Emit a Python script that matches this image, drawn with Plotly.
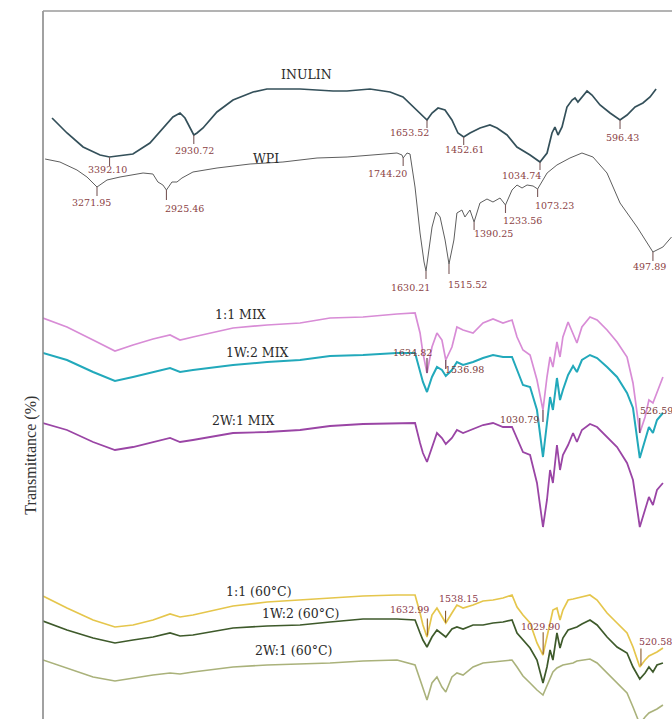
import numpy as np
import plotly.graph_objects as go

# ---------------- spectra (wavenumber in cm-1, stacked transmittance in %) ----------------
INULIN_WN = [3707, 3625, 3537, 3444, 3392.10, 3264, 3171, 3099, 3045, 3006, 2979, 2930.72,
             2913, 2880, 2853, 2804, 2716, 2606, 2530, 2349, 2168, 2092, 1966, 1856, 1785,
             1730, 1681, 1653.52, 1626, 1593, 1555, 1517, 1484, 1452.61, 1418, 1363, 1309,
             1270, 1215, 1161, 1089, 1034.74, 996, 969, 953, 936, 914, 887, 859, 843, 827,
             805, 777, 750, 706, 651, 596.43, 558, 514, 471, 432, 399]
INULIN_T = [60.1, 58.6, 57.2, 56.4, 56.2, 56.5, 57.6, 59.1, 60.2, 60.6, 60.1, 58.4,
            58.6, 59.1, 59.7, 60.7, 61.9, 62.7, 63.0, 63.0, 62.8, 62.8, 63.0, 62.7, 62.2,
            61.2, 60.4, 59.9, 60.6, 61.1, 60.9, 59.9, 58.6, 58.2, 58.6, 59.1, 59.4,
            59.1, 58.4, 57.2, 56.4, 55.7, 56.6, 58.6, 59.2, 58.4, 59.2, 61.2, 61.9, 62.1, 61.7,
            62.2, 62.8, 62.4, 61.4, 60.6, 59.9, 60.4, 61.2, 61.6, 62.2, 63.0]

WPI_WN = [3531, 3457, 3372, 3322, 3271.95, 3222, 3157, 3092, 3042, 2993, 2968, 2943,
          2925.46, 2898, 2873, 2848, 2793, 2673, 2508, 2344, 2174, 2024, 1860, 1775, 1750,
          1744.20, 1725, 1710, 1685, 1660, 1640, 1630.21, 1600, 1580, 1560, 1535, 1515.52,
          1491, 1476, 1451, 1436, 1411, 1390.25, 1361, 1326, 1296, 1261, 1233.56, 1201,
          1176, 1151, 1126, 1096, 1073.23, 1026, 977, 912, 852, 797, 727, 662, 577,
          497.89, 448, 405]
WPI_T = [56.0, 55.7, 54.9, 54.2, 53.2, 53.9, 54.2, 54.4, 54.6, 54.5, 53.7, 53.4,
         52.9, 53.7, 53.7, 54.1, 54.7, 55.1, 55.5, 55.7, 56.1, 56.2, 56.5, 56.6, 56.4,
         56.1, 56.6, 56.5, 53.2, 48.6, 45.7, 44.8, 49.2, 50.7, 50.2, 47.9, 45.5,
         47.9, 50.6, 50.9, 50.2, 50.9, 49.7, 51.6, 52.0, 51.7, 52.1, 51.4, 52.9,
         53.4, 53.1, 53.4, 53.3, 53.0, 54.6, 55.4, 56.1, 56.6, 56.2, 54.6, 51.6, 49.2,
         46.7, 47.2, 48.2]

# common wavenumber grid of the blend spectra
MIX_WN = [3635, 3510, 3374, 3260, 3166, 3062, 2973, 2921, 2854, 2645, 2468, 2296, 2140,
          1968, 1791, 1697, 1671, 1656, 1634.82, 1609, 1583, 1557, 1536.98, 1505, 1479,
          1447, 1395, 1343, 1291, 1239, 1192, 1166, 1135, 1098, 1062, 1030.79, 1010, 994,
          979, 958, 942, 927, 900, 874, 854, 828, 786, 749, 697, 645, 593, 562, 526.59,
          499, 479, 458, 437, 406]

MIX_11_T = [40.1, 39.2, 37.9, 36.8, 37.4, 38.0, 38.4, 37.9, 38.2, 39.1, 39.4, 39.6, 40.1,
            40.2, 40.5, 40.6, 38.6, 36.6, 34.6, 37.2, 38.6, 37.9, 35.9, 37.2, 39.2,
            38.9, 38.6, 39.6, 40.0, 39.6, 39.9, 38.2, 36.9, 36.4, 33.9, 30.9, 34.2, 36.2,
            35.2, 37.7, 36.2, 38.2, 39.7, 38.6, 37.6, 39.2, 40.2, 39.9, 38.9, 37.7, 36.2, 33.6, 28.6,
            30.2, 31.9, 31.6, 32.6, 34.2]
MIX_1W2_T = [36.6, 35.9, 34.7, 33.8, 34.2, 34.7, 35.1, 34.7, 34.9, 35.4, 35.7, 35.9, 36.3,
             36.4, 36.6, 36.6, 34.9, 33.7, 32.7, 34.2, 35.2, 34.9, 34.3, 34.9, 35.7,
             35.4, 35.7, 36.1, 36.4, 36.2, 36.2, 34.9, 33.4, 33.2, 30.9, 26.2, 29.9, 32.2,
             30.9, 34.1, 31.9, 32.9, 34.4, 35.3, 34.7, 35.9, 36.4, 36.1, 35.2, 34.2, 32.6, 31.1, 26.1,
             27.9, 29.2, 28.6, 29.9, 30.6]
MIX_2W1_T = [29.6, 28.9, 27.7, 26.9, 27.2, 27.7, 28.1, 27.7, 27.9, 28.6, 28.7, 28.9, 29.3,
             29.5, 29.6, 29.6, 27.6, 26.6, 25.7, 27.2, 28.6, 28.1, 27.5, 28.1, 28.9,
             28.6, 29.0, 29.4, 29.6, 29.2, 29.2, 28.1, 26.7, 26.4, 23.6, 19.2, 21.9, 24.9,
             23.6, 27.4, 24.9, 26.4, 27.4, 28.6, 27.7, 28.9, 29.5, 29.2, 28.2, 27.2, 25.6, 23.9, 19.2,
             20.9, 22.2, 21.4, 22.9, 23.6]
HEAT_11_T = [12.3, 11.1, 9.9, 9.2, 9.4, 9.9, 10.5, 10.2, 10.4, 11.3, 11.7, 11.9, 12.1,
             12.3, 12.4, 12.4, 10.6, 9.4, 8.2, 10.4, 11.1, 10.2, 9.6, 10.6, 11.4,
             11.1, 11.4, 11.8, 11.9, 12.1, 12.4, 11.2, 10.4, 9.6, 7.6, 6.4, 8.2, 9.9,
             10.9, 11.1, 9.9, 10.9, 11.9, 12.0, 12.1, 12.2, 12.4, 11.9, 10.6, 9.6, 8.6, 7.2, 5.2,
             5.9, 6.3, 6.5, 6.7, 7.1]
HEAT_1W2_T = [9.8, 8.9, 8.1, 7.6, 7.9, 8.2, 8.6, 8.3, 8.4, 9.1, 9.3, 9.4, 9.7,
              10.0, 10.0, 9.9, 8.6, 7.9, 7.2, 8.2, 8.9, 8.5, 8.2, 9.0, 9.2,
              9.0, 9.4, 9.4, 9.6, 9.7, 9.9, 8.6, 7.9, 7.1, 5.9, 3.6, 5.2, 6.9,
              5.9, 8.6, 7.1, 8.1, 8.9, 9.1, 9.2, 9.5, 9.9, 9.4, 8.2, 7.2, 6.6, 5.2, 4.0,
              4.6, 5.2, 4.7, 5.4, 5.6]
HEAT_2W1_T = [5.9, 5.1, 4.2, 3.8, 4.1, 4.4, 4.6, 4.5, 4.7, 5.2, 5.4, 5.5, 5.6,
              5.8, 5.9, 5.4, 3.9, 2.9, 1.9, 3.6, 4.2, 3.2, 2.7, 4.2, 4.6,
              4.4, 5.2, 5.6, 5.7, 5.8, 5.9, 5.2, 4.3, 3.6, 2.9, 2.4, 3.4, 4.1,
              4.7, 5.1, 5.3, 5.4, 5.5, 5.6, 5.8, 5.9, 6.0, 5.6, 4.6, 3.6, 2.6, 1.2, -0.5,
              0.2, 0.6, 0.8, 1.0, 1.4]

SERIES_NAMES = ["INULIN", "WPI", "1:1 MIX", "1W:2 MIX", "2W:1 MIX",
                "1:1 (60°C)", "1W:2 (60°C)", "2W:1 (60°C)"]

# labelled band positions per spectrum
INULIN_PEAKS = [3392.10, 2930.72, 1653.52, 1452.61, 1034.74, 596.43]
WPI_PEAKS = [3271.95, 2925.46, 1744.20, 1630.21, 1515.52, 1390.25, 1233.56, 1073.23, 497.89]
MIX_PEAKS = [1634.82, 1536.98, 1030.79, 526.59]
HEAT_PEAKS = [1632.99, 1538.15, 1029.90, 520.58]

for arr in (MIX_11_T, MIX_1W2_T, MIX_2W1_T, HEAT_11_T, HEAT_1W2_T, HEAT_2W1_T):
    assert len(arr) == len(MIX_WN)
assert len(INULIN_T) == len(INULIN_WN) and len(WPI_T) == len(WPI_WN)

# ---------------- styling ----------------
W, H = 672, 719
SERIF = "DejaVu Serif"

spectra = [
    # name, x-axis, wn, T, colour, width, title position (wn, T)
    (SERIES_NAMES[0], "x2", INULIN_WN, INULIN_T, "#34505a", 1.7, (2316, 64.5)),
    (SERIES_NAMES[1], "x3", WPI_WN, WPI_T, "#5e5e5e", 1.0, (2429, 56.1)),
    (SERIES_NAMES[2], "x", MIX_WN, MIX_11_T, "#d88cd6", 1.7, (2604, 40.5)),
    (SERIES_NAMES[3], "x", MIX_WN, MIX_1W2_T, "#22a9bb", 2.0, (2520, 36.7)),
    (SERIES_NAMES[4], "x", MIX_WN, MIX_2W1_T, "#9a45a5", 1.8, (2588, 29.9)),
    (SERIES_NAMES[5], "x", MIX_WN, HEAT_11_T, "#e5c64c", 1.7, (2510, 12.8)),
    (SERIES_NAMES[6], "x", MIX_WN, HEAT_1W2_T, "#3e5a2b", 1.7, (2296, 10.6)),
    (SERIES_NAMES[7], "x", MIX_WN, HEAT_2W1_T, "#aab27b", 1.6, (2328, 6.9)),
]

# label offsets in screen pixels (dx right, dy down) and tick length (+ down, - up)
peak_groups = [
    ("x2", INULIN_WN, INULIN_T, INULIN_PEAKS, "#8b3f45", "#7b5a5a",
     [(-2, 12, 9), (1, 15, 9), (-18, 12, 8), (1, 12, 8), (-18, 13, 8), (2, 17, 9)]),
    ("x3", WPI_WN, WPI_T, WPI_PEAKS, "#8b3f45", "#7b5a5a",
     [(-6, 15, 9), (18, 18, 10), (-16, 15, 8), (-16, 16, 8), (19, 20, 10),
      (19, 11, 8), (17, 15, 8), (17, 16, 8), (-3, 14, 9)]),
    ("x", MIX_WN, MIX_11_T, MIX_PEAKS, "#7a3a3a", "#5a2a40",
     [(-15, -21, -15), (19, 9, 9), (-23, 9, 12), (17, -23, -15)]),
    ("x", MIX_WN, HEAT_11_T, HEAT_PEAKS, "#8b3a4a", "#8b5a2b",
     [(-18, -26, -17), (13, -24, -12), (-3, -28, -22), (15, -24, -17)]),
]

fig = go.Figure()
for name, xa, wn, t, col, lw, _ in spectra:
    fig.add_trace(go.Scatter(x=wn, y=t, xaxis=xa, yaxis="y", mode="lines",
                             line=dict(color=col, width=lw), name=name,
                             hoverinfo="skip", showlegend=False))

annotations = []
shapes = []
for name, xa, wn, t, col, lw, (tx, ty) in spectra:
    annotations.append(dict(x=tx, y=ty, xref=xa, yref="y", text=name, showarrow=False,
                            font=dict(family=SERIF, size=12.5, color="#2a2a2a")))

for xa, wn, t, peaks, tcol, kcol, offs in peak_groups:
    order = np.argsort(wn)
    xs = np.asarray(wn, float)[order]
    ys = np.asarray(t, float)[order]
    for p, (dx, dy, tick) in zip(peaks, offs):
        tp = float(np.interp(p, xs, ys))
        shapes.append(dict(type="line", xref=xa, yref="y", x0=p, x1=p,
                           y0=tp, y1=tp - tick / 10.0,
                           line=dict(color=kcol, width=1.1)))
        annotations.append(dict(x=p, y=tp, xref=xa, yref="y", text=f"{p:.2f}",
                                showarrow=False, xshift=dx, yshift=-dy,
                                font=dict(family=SERIF, size=9.5, color=tcol)))

# frame along the left and top edges
shapes.append(dict(type="line", xref="paper", yref="paper", x0=0, x1=0, y0=0, y1=1,
                   line=dict(color="#8a8a8a", width=1.6)))
shapes.append(dict(type="line", xref="paper", yref="paper", x0=0, x1=1, y0=1, y1=1,
                   line=dict(color="#9a9a9a", width=1.6)))

annotations.append(dict(x=-0.037, y=0.373, xref="paper", yref="paper",
                        text="Transmittance (%)", textangle=-90, showarrow=False,
                        font=dict(family="Liberation Serif", size=16, color="#333333")))

hidden = dict(showgrid=False, zeroline=False, showticklabels=False, ticks="",
              showline=False, fixedrange=True)

fig.update_layout(
    width=W, height=H,
    margin=dict(l=43, r=0, t=11, b=0),
    paper_bgcolor="white", plot_bgcolor="white",
    xaxis=dict(range=[3634.8, 358.8], **hidden),
    xaxis2=dict(range=[3756.5, 311.8], overlaying="x", anchor="y", **hidden),
    xaxis3=dict(range=[3541.4, 402.7], overlaying="x", anchor="y", **hidden),
    yaxis=dict(range=[0, 70.8], **hidden),
    annotations=annotations,
    shapes=shapes,
)

fig.write_html("out.html")
